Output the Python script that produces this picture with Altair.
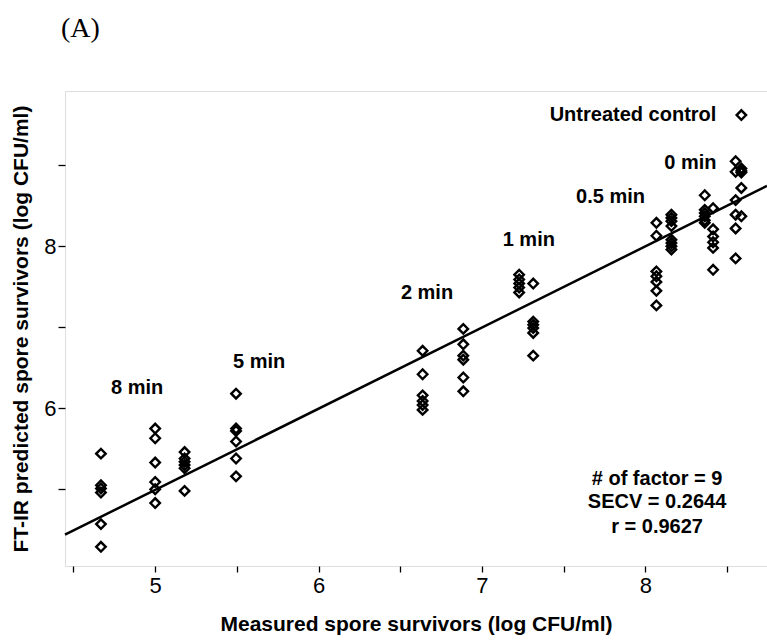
import altair as alt
import pandas as pd

# Measured log CFU/ml for each sample column and the FT-IR predicted values
col_x = [4.668, 5.0, 5.18, 5.495, 6.637, 6.886, 7.228, 7.314,
         8.068, 8.16, 8.364, 8.415, 8.553, 8.588]
col_pred = [
    [5.44, 5.05, 5.01, 4.96, 4.57, 4.29],
    [5.75, 5.63, 5.33, 5.09, 5.00, 4.83],
    [5.46, 5.38, 5.34, 5.30, 5.26, 4.98],
    [6.18, 5.75, 5.72, 5.59, 5.38, 5.16],
    [6.71, 6.42, 6.16, 6.09, 6.04, 5.98],
    [6.98, 6.79, 6.65, 6.60, 6.38, 6.21],
    [7.65, 7.59, 7.54, 7.49, 7.43],
    [7.54, 7.07, 7.03, 6.99, 6.93, 6.65],
    [8.29, 8.13, 7.69, 7.63, 7.56, 7.45, 7.27],
    [8.39, 8.35, 8.31, 8.25, 8.08, 8.04, 8.00, 7.96],
    [8.63, 8.45, 8.41, 8.37, 8.32, 8.29],
    [8.47, 8.21, 8.12, 8.05, 7.98, 7.71],
    [9.05, 8.92, 8.57, 8.39, 8.22, 7.85],
    [8.96, 8.93, 8.91, 8.72, 8.37],
]

# regression line
line_x = [4.448, 8.745]
line_y = [4.44, 8.745]

# treatment labels
label_text = ["8 min", "5 min", "2 min", "1 min", "0.5 min", "0 min"]
label_x = [4.89, 5.636, 6.664, 7.287, 7.787, 8.276]
label_y = [6.25, 6.57, 7.42, 8.08, 8.605, 9.03]

# statistics text
stats_text = ["# of factor = 9", "SECV = 0.2644", "r = 0.9627"]
stats_x = [8.072, 8.072, 8.072]
stats_y = [5.127, 4.84, 4.538]

# legend
legend_text = ["Untreated control"]
legend_text_x = [8.435]
legend_sym_x = [8.588]
legend_y = [9.62]

x_ticks = [4.5, 5, 5.5, 6, 6.5, 7, 7.5, 8, 8.5]
y_ticks = [5, 6, 7, 8, 9]
x_domain = [4.448, 8.745]
y_domain = [4.053, 9.917]

rows = []
for xv, preds in zip(col_x, col_pred):
    for p in preds:
        rows.append({"measured": xv, "predicted": p})
pts = pd.DataFrame(rows)

line_df = pd.DataFrame({"measured": line_x, "predicted": line_y})
lab_df = pd.DataFrame({"measured": label_x + stats_x, "predicted": label_y + stats_y,
                       "text": label_text + stats_text})
leg_txt_df = pd.DataFrame({"measured": legend_text_x, "predicted": legend_y, "text": legend_text})
leg_sym_df = pd.DataFrame({"measured": legend_sym_x, "predicted": legend_y})

FONT = "Liberation Sans"

xscale = alt.Scale(domain=x_domain, nice=False, zero=False)
yscale = alt.Scale(domain=y_domain, nice=False, zero=False)

xenc = alt.X("measured:Q", scale=xscale,
             axis=alt.Axis(values=x_ticks, title="Measured spore survivors (log CFU/ml)",
                           labelExpr="datum.value % 1 == 0 ? format(datum.value, 'd') : ''",
                           grid=False, domain=False, tickColor="black", tickWidth=1.3,
                           tickSize=6, labelPadding=3, labelFontSize=22, labelFont=FONT,
                           labelColor="black", labelOverlap=False,
                           titleFont=FONT, titleFontSize=21, titleFontWeight="bold",
                           titleColor="black", titleBaseline="alphabetic", titleY=64))
yenc = alt.Y("predicted:Q", scale=yscale,
             axis=alt.Axis(values=y_ticks, title="FT-IR predicted spore survivors (log CFU/ml)",
                           labelExpr="datum.value % 2 == 0 ? format(datum.value, 'd') : ''",
                           grid=False, domain=False, tickColor="black", tickWidth=1.3,
                           tickSize=7, labelPadding=2, labelFontSize=22, labelFont=FONT,
                           labelColor="black", labelOverlap=False,
                           titleFont=FONT, titleFontSize=21, titleFontWeight="bold",
                           titleColor="black", titleBaseline="alphabetic", titleX=-38,
                           titleY=237.5, titleAngle=270))

points = alt.Chart(pts).mark_point(shape="diamond", filled=False, color="black",
                                   size=90, strokeWidth=2.4, opacity=1).encode(x=xenc, y=yenc)

line = alt.Chart(line_df).mark_line(color="black", strokeWidth=2.5).encode(
    x="measured:Q", y="predicted:Q")

labels = alt.Chart(lab_df).mark_text(font=FONT, fontSize=20, fontWeight="bold",
                                     color="black", align="center", baseline="middle").encode(
    x="measured:Q", y="predicted:Q", text="text:N")

leg_txt = alt.Chart(leg_txt_df).mark_text(font=FONT, fontSize=20, fontWeight="bold",
                                          color="black", align="right", baseline="middle").encode(
    x="measured:Q", y="predicted:Q", text="text:N")

leg_sym = alt.Chart(leg_sym_df).mark_point(shape="diamond", filled=False, color="black",
                                           size=90, strokeWidth=2.4, opacity=1).encode(
    x="measured:Q", y="predicted:Q")

chart = alt.layer(points, line, labels, leg_txt, leg_sym).properties(
    width=702, height=475,
    autosize=alt.AutoSizeParams(type="none"),
    padding={"left": 65, "top": 91, "right": 0, "bottom": 78},
    title=alt.TitleParams("(A)", font="Liberation Serif", fontSize=28, fontWeight="normal",
                          color="black", anchor="start", frame="group", offset=26,
                          baseline="alphabetic", dx=-4),
).configure_view(stroke="black", strokeWidth=1.6).configure(background="white")

chart.save("out.html", embed_options={"renderer": "svg", "actions": False})
